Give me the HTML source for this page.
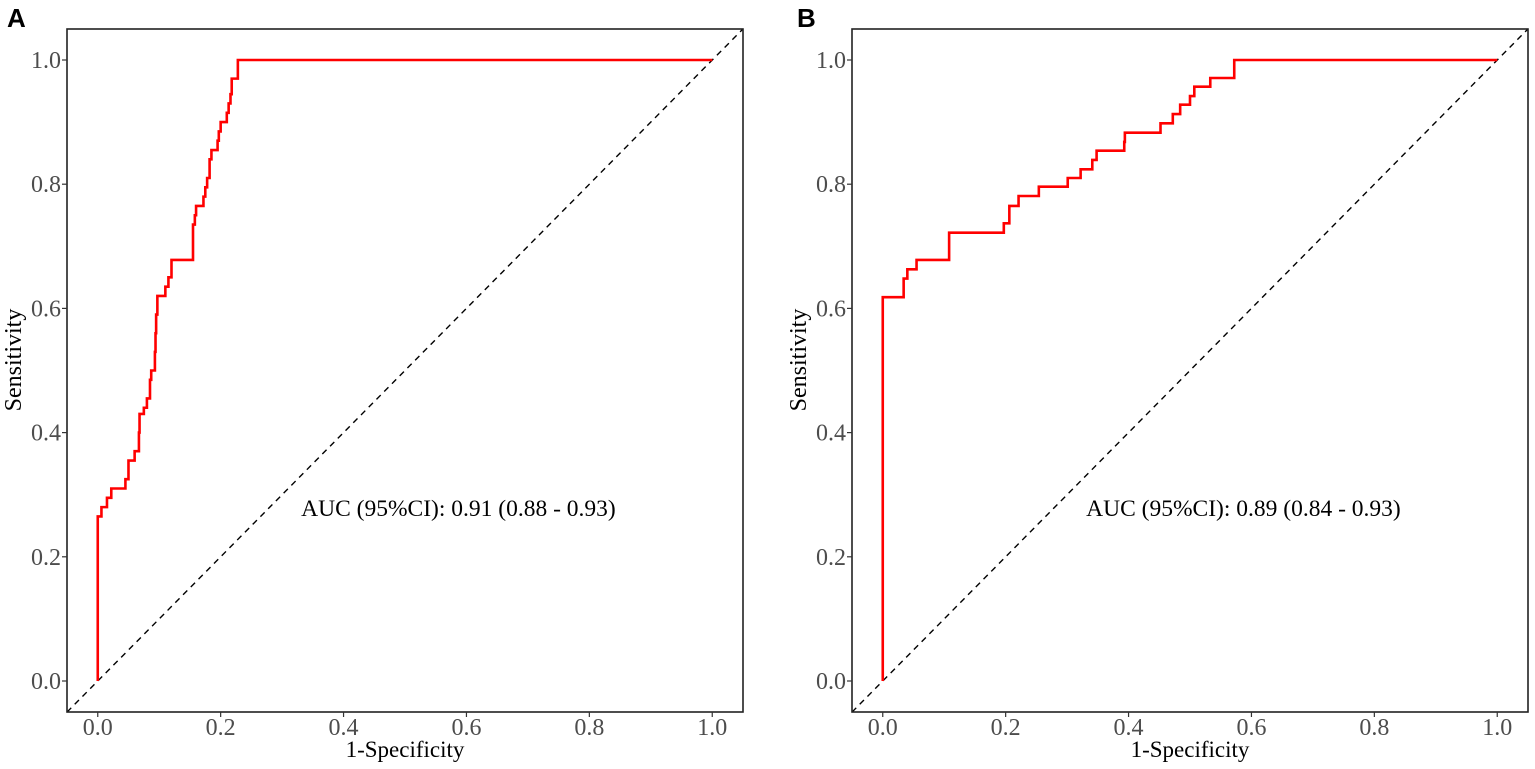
<!DOCTYPE html>
<html><head><meta charset="utf-8"><style>
html,body{margin:0;padding:0;background:#fff;}
svg{display:block;}
text{font-family:"Liberation Serif",serif;fill:#4d4d4d;}
</style></head><body>
<svg id="chart" width="1535" height="769" viewBox="0 0 1535 769"></svg>
<script>
const ticks = [0, 0.2, 0.4, 0.6, 0.8, 1.0];
const tickLabels = ["0.0", "0.2", "0.4", "0.6", "0.8", "1.0"];
const rocAX = [0, 0, 0.006, 0.015, 0.022, 0.045, 0.05, 0.06, 0.067, 0.068, 0.075, 0.08, 0.085, 0.087, 0.093, 0.094, 0.095, 0.097, 0.11, 0.115, 0.12, 0.155, 0.158, 0.16, 0.172, 0.175, 0.178, 0.182, 0.185, 0.195, 0.197, 0.2, 0.21, 0.213, 0.216, 0.218, 0.228, 1.0];
const rocAY = [0, 0.265, 0.28, 0.295, 0.31, 0.325, 0.355, 0.37, 0.4, 0.43, 0.44, 0.455, 0.485, 0.5, 0.53, 0.56, 0.59, 0.62, 0.635, 0.65, 0.678, 0.735, 0.75, 0.765, 0.78, 0.795, 0.81, 0.84, 0.855, 0.87, 0.885, 0.9, 0.915, 0.93, 0.945, 0.97, 1.0, 1.0];
const rocBX = [0, 0, 0.034, 0.04, 0.055, 0.108, 0.197, 0.206, 0.221, 0.254, 0.301, 0.322, 0.341, 0.348, 0.393, 0.394, 0.452, 0.472, 0.484, 0.5, 0.507, 0.533, 0.572, 1.0];
const rocBY = [0, 0.618, 0.648, 0.663, 0.678, 0.722, 0.737, 0.765, 0.781, 0.796, 0.81, 0.824, 0.839, 0.854, 0.868, 0.883, 0.898, 0.913, 0.928, 0.942, 0.957, 0.971, 1.0, 1.0];
const panelTitles = ["A", "B"];
const aucTexts = ["AUC (95%CI): 0.91 (0.88 - 0.93)", "AUC (95%CI): 0.89 (0.84 - 0.93)"];

const NS = "http://www.w3.org/2000/svg";
const svg = document.getElementById("chart");
function mk(tag, attrs, parent) {
  const e = document.createElementNS(NS, tag);
  for (const k in attrs) e.setAttribute(k, attrs[k]);
  (parent || svg).appendChild(e);
  return e;
}
function panel(idx, left, right, xs, ys) {
  const top = 29, bottom = 712;
  const g = mk("g", {});
  
  
  const w = right - left, pad = w * 0.0455;
  const x0 = left + pad, x1 = right - pad;
  const sx = v => x0 + v * (x1 - x0);
  const y0 = 681, y1 = 60;
  const sy = v => y0 + v * (y1 - y0);
  const dmin = (left - x0) / (x1 - x0), dmax = (right - x0) / (x1 - x0);
  const diag = mk("line", {x1: sx(dmin), y1: sy(dmin), x2: sx(dmax), y2: sy(dmax), stroke: "#000", "stroke-width": 1.4, "stroke-dasharray": "6,5"}, g);
  
  
  let d = "";
  for (let i = 0; i < xs.length; i++) {
    if (i === 0) d += "M" + sx(xs[0]) + "," + sy(ys[0]);
    else d += " L" + sx(xs[i]) + "," + sy(ys[i - 1]) + " L" + sx(xs[i]) + "," + sy(ys[i]);
  }
  const curve = mk("path", {d: d, fill: "none", stroke: "#ff0000", "stroke-width": 2.6}, g);
  
  
  const box = mk("rect", {x: left, y: top, width: right - left, height: bottom - top, fill: "none", stroke: "#222", "stroke-width": 1.6}, g);
  
  
  ticks.forEach((t, i) => {
    mk("line", {x1: left - 5, x2: left, y1: sy(t), y2: sy(t), stroke: "#333", "stroke-width": 1.2}, g);
    const yl = mk("text", {x: left - 6, y: sy(t) + 8, "text-anchor": "end", "font-size": 24}, g);
    yl.textContent = tickLabels[i];
    
    
    mk("line", {x1: sx(t), x2: sx(t), y1: bottom, y2: bottom + 5, stroke: "#333", "stroke-width": 1.2}, g);
    const xl = mk("text", {x: sx(t), y: bottom + 23, "text-anchor": "middle", "font-size": 24}, g);
    xl.textContent = tickLabels[i];
    
    
  });
  const xt = mk("text", {x: (left + right) / 2, y: 757, "text-anchor": "middle", "font-size": 23, style: "fill:#000"}, g);
  xt.textContent = "1-Specificity";
  
  
  const cy = 360;
  const tx = left - 46;
  const yt = mk("text", {x: tx, y: cy, "text-anchor": "middle", "font-size": 24, style: "fill:#000", transform: "rotate(-90 " + tx + " " + cy + ")"}, g);
  yt.textContent = "Sensitivity";
  
  
  const auc = mk("text", {x: sx(0.587), y: 516, "text-anchor": "middle", "font-size": 23.5, style: "fill:#000"}, g);
  auc.textContent = aucTexts[idx];
  
  
  const pl = mk("text", {x: left - 60 + (idx ? 5 : 0), y: 27, "font-size": 26, "font-weight": "bold", style: "fill:#000;font-family:'Liberation Sans',sans-serif"}, g);
  pl.textContent = panelTitles[idx];
  
  
}
panel(0, 67, 743, rocAX, rocAY);
panel(1, 852, 1528, rocBX, rocBY);
</script>
</body></html>
